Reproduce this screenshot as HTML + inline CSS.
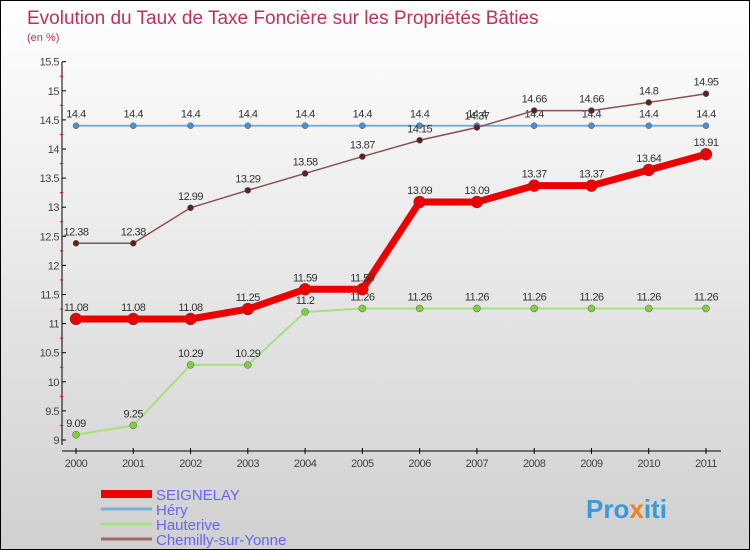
<!DOCTYPE html>
<html><head><meta charset="utf-8"><style>
body{margin:0}
#c{width:748px;height:548px;border:1px solid #000;background:linear-gradient(#fff,#d0d0d0);position:relative;font-family:"Liberation Sans",sans-serif}
</style></head><body>
<div id="c">
<svg id="s" width="748" height="548" style="position:absolute;left:0;top:0">
<text x="26" y="23" font-size="19" fill="#c0305a">Evolution du Taux de Taxe Foncière sur les Propriétés Bâties</text>
<text x="26" y="40" font-size="11" fill="#c0305a">(en %)</text>
<g id="g"></g>
<text x="585" y="517" font-size="26" font-weight="bold" fill="#3a9ad9">Pro<tspan fill="#f08020">x</tspan>iti</text>
</svg>
</div>
<script>
const years=[2000,2001,2002,2003,2004,2005,2006,2007,2008,2009,2010,2011];
const yTicks=[9,9.5,10,10.5,11,11.5,12,12.5,13,13.5,14,14.5,15,15.5];
const seignelay=[11.08,11.08,11.08,11.25,11.59,11.59,13.09,13.09,13.37,13.37,13.64,13.91];
const hery=[14.4,14.4,14.4,14.4,14.4,14.4,14.4,14.4,14.4,14.4,14.4,14.4];
const hauterive=[9.09,9.25,10.29,10.29,11.2,11.26,11.26,11.26,11.26,11.26,11.26,11.26];
const chemilly=[12.38,12.38,12.99,13.29,13.58,13.87,14.15,14.37,14.66,14.66,14.8,14.95];
const names=["SEIGNELAY","Héry","Hauterive","Chemilly-sur-Yonne"];
const NS="http://www.w3.org/2000/svg";
const g=document.getElementById('g');
const X=i=>75+i*(630/(years.length-1));
const Y=v=>439-(v-9)*58.2;
function el(t,a,p){const e=document.createElementNS(NS,t);for(const k in a)e.setAttribute(k,a[k]);(p||g).appendChild(e);return e;}
let ax=el('line',{x1:61,y1:61,x2:61,y2:444,stroke:'#000'});


yTicks.forEach((v,i)=>{
 let t=el('line',{x1:61,x2:65,y1:Y(v),y2:Y(v),stroke:'#000'});
 
 
 if(i<yTicks.length-1){let m=el('line',{x1:59,x2:62,y1:Y(v+0.25),y2:Y(v+0.25),stroke:'#e00'});
 
 }
 let l=el('text',{x:58,y:Y(v)+4,'font-size':11,'text-anchor':'end',fill:'#444','letter-spacing':'-0.5'});l.textContent=v;
 
 
});
let xa=el('line',{x1:61,y1:450,x2:720,y2:450,stroke:'#000'});


years.forEach((y,i)=>{
 let t=el('line',{x1:X(i),x2:X(i),y1:447,y2:453,stroke:'#000'});
 
 
 let l=el('text',{x:X(i),y:466,'font-size':11,'text-anchor':'middle',fill:'#444','letter-spacing':'-0.5'});l.textContent=y;
 
 
});
function series(d,col,w,r,dot,name){
 let p=el('polyline',{points:d.map((v,i)=>X(i)+','+Y(v)).join(' '),fill:'none',stroke:col,'stroke-width':w});
 
 
 d.forEach((v,i)=>{
  let c=el('circle',{cx:X(i),cy:Y(v),r:r,fill:dot,stroke:'#555','stroke-width':0.5});
  
  
  let t=el('text',{x:X(i),y:Y(v)-8,'font-size':11,'text-anchor':'middle',fill:'#333','letter-spacing':'-0.5'});t.textContent=v;
  
  
 });
}
series(hery,'#7ab0d8',2,3,'#4a90d0','hery');
series(hauterive,'#a8e080',2,3.5,'#80d040','hauterive');
series(chemilly,'#8a5050',1.5,3,'#602020','chemilly');
series(seignelay,'#ee0000',7,6,'#ee0000','seignelay');
const lc=['#ee0000','#7ab0d8','#a8e080','#a06868'],lw=[8,3,3,3];
names.forEach((n,i)=>{
 let y=493+i*15;
 let l=el('line',{x1:100,x2:151,y1:y,y2:y,stroke:lc[i],'stroke-width':lw[i]});
 
 
 let t=el('text',{x:155,y:y+6,'font-size':15,fill:'#6666ee'});t.textContent=n;
 
 
});
</script>
</body></html>
